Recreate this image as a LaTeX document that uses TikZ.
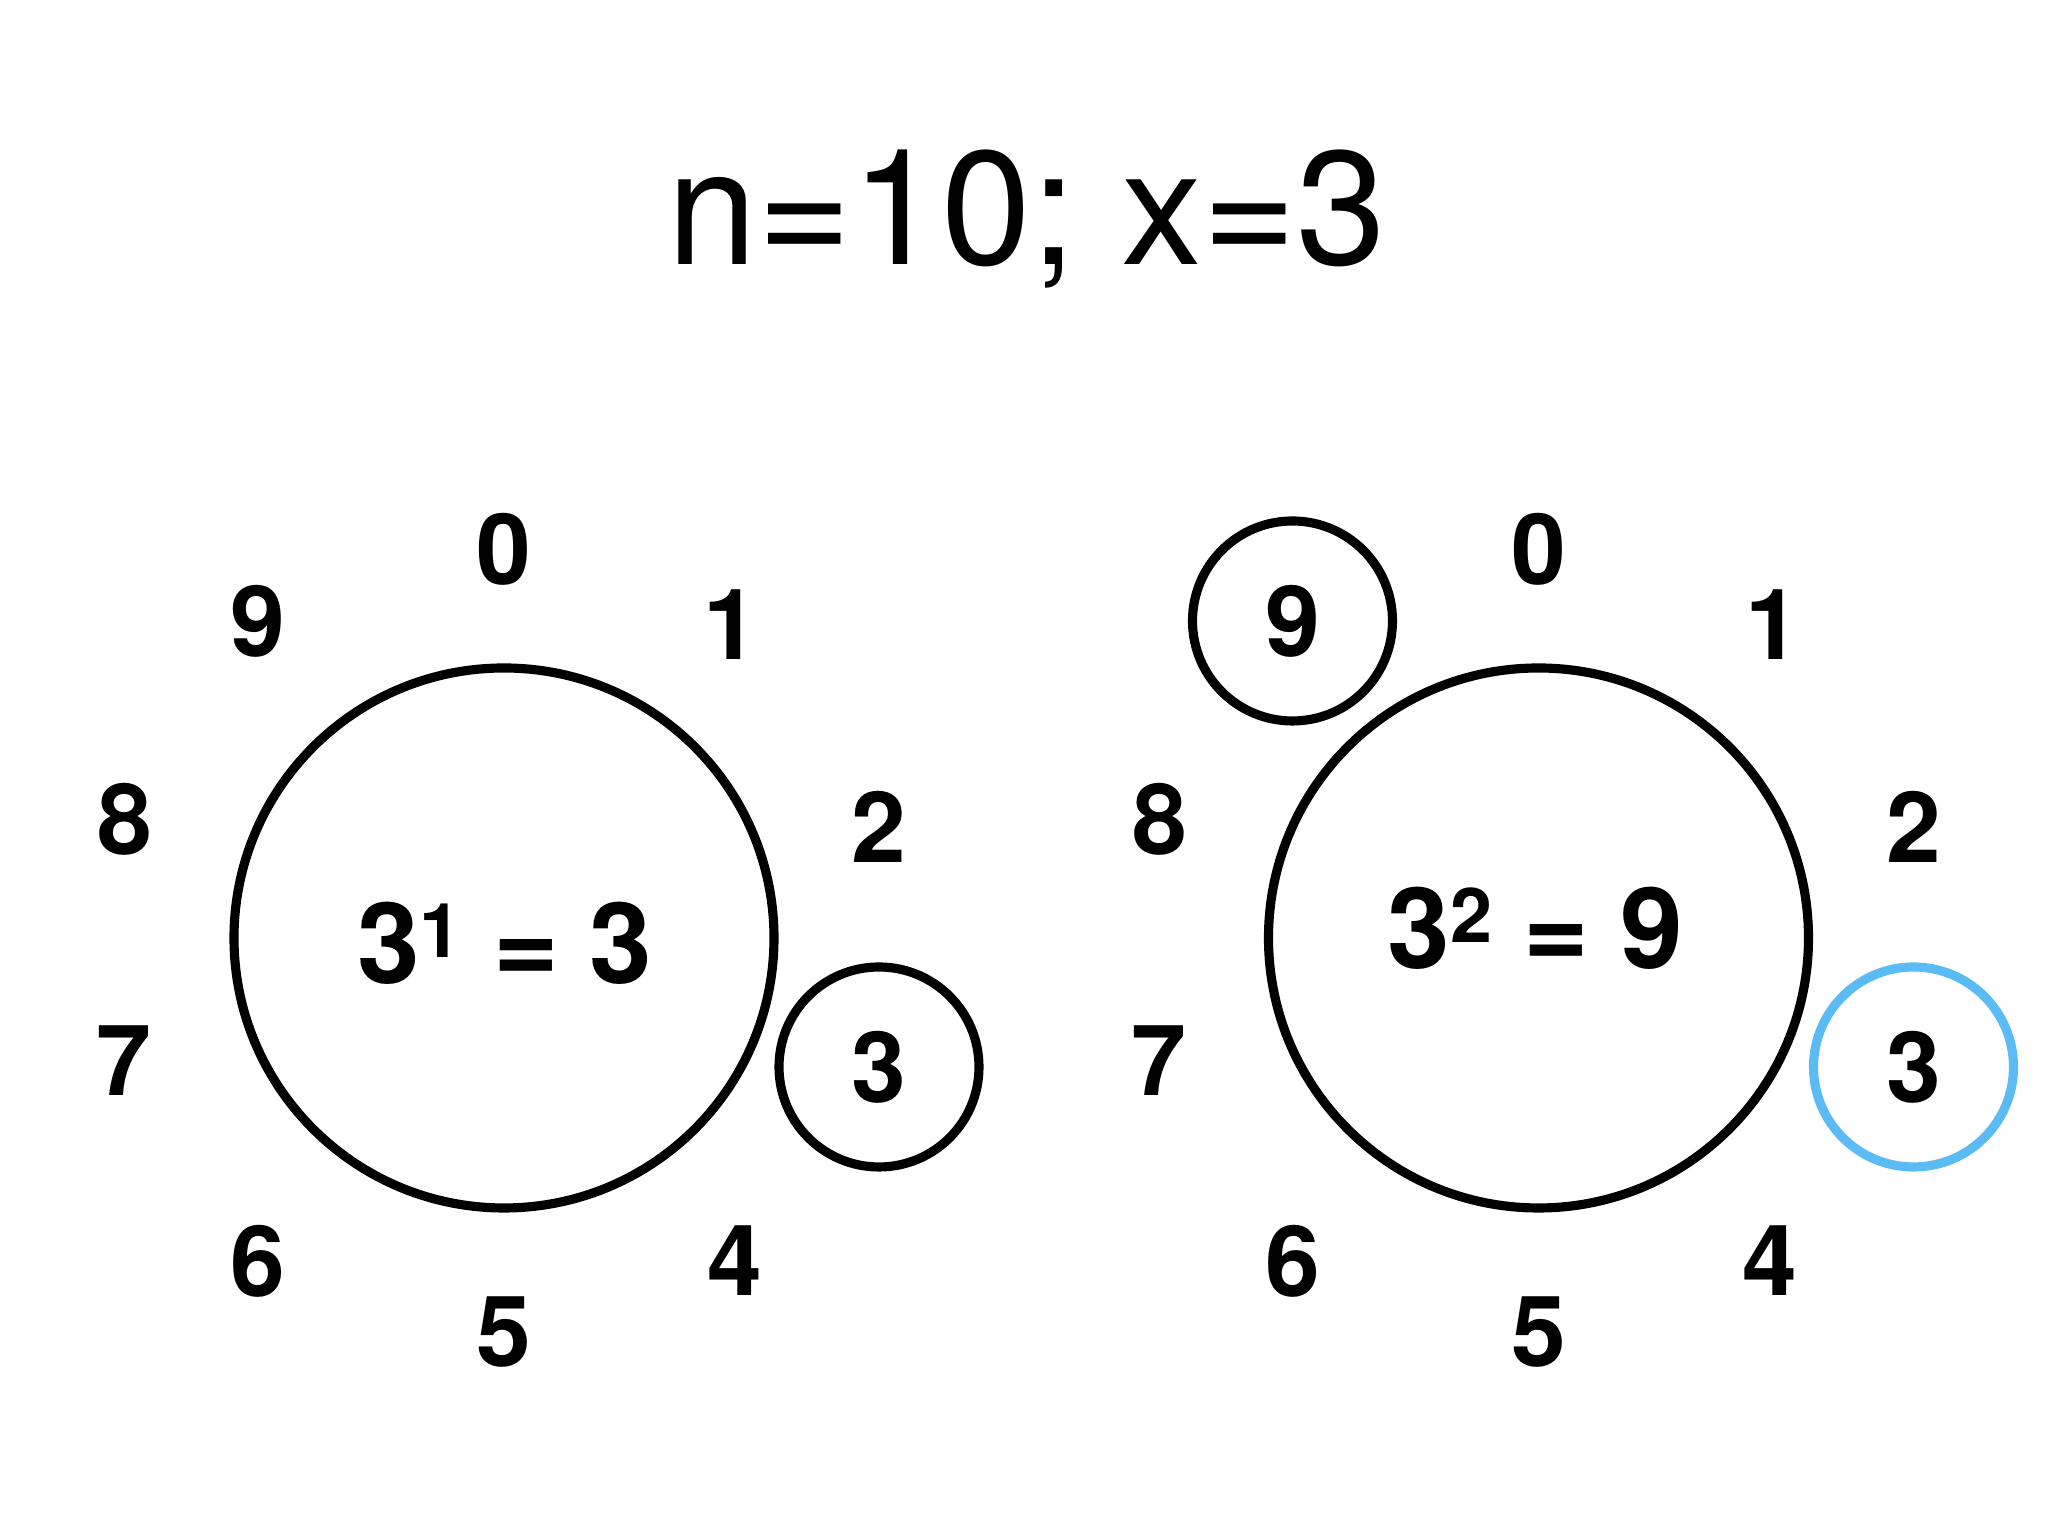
\documentclass[tikz,border=0pt]{standalone}
\usepackage{fontspec}
\setmainfont{TeX Gyre Heros}
\definecolor{hitblue}{RGB}{90,187,245}
\newcommand{\expo}[1]{\raisebox{7.4pt}{\fontsize{21.5}{21.5}\selectfont #1}}
\begin{document}
\begin{tikzpicture}
    \useasboundingbox (0,0) rectangle (20.48,15.36);
    \tikzstyle{dnode} = [inner sep = 0pt, font=\fontsize{28}{28}\selectfont\bfseries]
    \tikzstyle{ring} = [line width = 2.6pt, draw=black, circle, minimum size = 5.4cm, inner sep = 0pt]
    \tikzstyle{hit} = [line width = 2.6pt, draw=black, circle, minimum size = 2cm, inner sep = 0pt]
    \tikzstyle{eqnode} = [inner sep = 0pt, font=\fontsize{32}{32}\selectfont\bfseries]

    \node[anchor=base, inner sep = 0pt, font=\fontsize{46}{46}\selectfont] (title) at (10.27, 12.71) {n=10; x=3};

    \begin{scope}[shift={(5.04,5.98)}]
    \node[ring] (ring1) at (0,0) {};
    \node[eqnode] (eq1) at (0.01,-0.05) {3\expo{1} = 3};

    \node[dnode] (a0) at (0,3.89) {0};
    \node[dnode] (a1) at (2.27,3.13) {1};
    \node[dnode] (a2) at (3.75,1.11) {2};
    \node[dnode, hit] (a3) at (3.75,-1.29) {3};
    \node[dnode] (a4) at (2.31,-3.23) {4};
    \node[dnode] (a5) at (0,-3.94) {5};
    \node[dnode] (a6) at (-2.46,-3.23) {6};
    \node[dnode] (a7) at (-3.80,-1.23) {7};
    \node[dnode] (a8) at (-3.79,1.19) {8};
    \node[dnode] (a9) at (-2.46,3.17) {9};
    \end{scope}

    \begin{scope}[shift={(15.385,5.98)}]
    \node[ring] (ring2) at (0,0) {};
    \node[eqnode] (eq2) at (-0.03,0.10) {3\expo{2} = 9};

    \node[dnode] (b0) at (0,3.89) {0};
    \node[dnode] (b1) at (2.34,3.13) {1};
    \node[dnode] (b2) at (3.75,1.11) {2};
    \node[dnode, hit, draw=hitblue] (b3) at (3.75,-1.29) {3};
    \node[dnode] (b4) at (2.31,-3.23) {4};
    \node[dnode] (b5) at (0,-3.94) {5};
    \node[dnode] (b6) at (-2.46,-3.23) {6};
    \node[dnode] (b7) at (-3.80,-1.23) {7};
    \node[dnode] (b8) at (-3.79,1.19) {8};
    \node[dnode, hit] (b9) at (-2.46,3.17) {9};
    \end{scope}
\end{tikzpicture}
\end{document}
